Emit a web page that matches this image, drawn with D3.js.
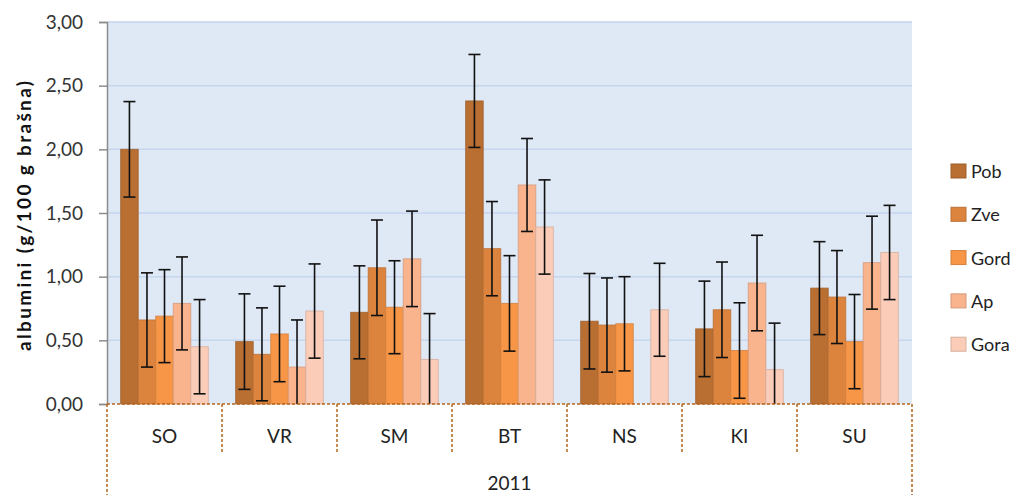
<!DOCTYPE html>
<html>
<head>
<meta charset="utf-8">
<script src="https://cdn.jsdelivr.net/npm/d3@7"></script>
<style>
  body { margin: 0; background: #fff; }
  svg { font-family: Lato, "Open Sans", sans-serif; }
</style>
</head>
<body>
<svg id="chart"></svg>
<script>
const sites = ["SO", "VR", "SM", "BT", "NS", "KI", "SU"];
const series = ["Pob", "Zve", "Gord", "Ap", "Gora"];
const yearLabel = "2011";
const yTicks = [0, 0.5, 1, 1.5, 2, 2.5, 3];

// mean values per site, order of series
const values = {
    SO: [2.00, 0.66, 0.69, 0.79, 0.45],
    VR: [0.49, 0.39, 0.55, 0.29, 0.73],
    SM: [0.72, 1.07, 0.76, 1.14, 0.35],
    BT: [2.38, 1.22, 0.79, 1.72, 1.39],
    NS: [0.65, 0.62, 0.63, null, 0.74],
    KI: [0.59, 0.74, 0.42, 0.95, 0.27],
    SU: [0.91, 0.84, 0.49, 1.11, 1.19]
};

// error (+/-)
const errors = {
    SO: [0.375, 0.37, 0.365, 0.365, 0.37],
    VR: [0.375, 0.365, 0.375, 0.37, 0.37],
    SM: [0.365, 0.375, 0.365, 0.375, 0.36],
    BT: [0.365, 0.37, 0.375, 0.365, 0.37],
    NS: [0.375, 0.37, 0.37, null, 0.365],
    KI: [0.375, 0.375, 0.375, 0.375, 0.365],
    SU: [0.365, 0.365, 0.37, 0.365, 0.37]
};

const colors = ["#b96f32", "#dc843e", "#f79646", "#f9b48e", "#fbcdb9"];

const width = 1020;
const height = 495;
const plotLeft = 107;
const plotRight = 912;
const plotTop = 22;
const plotBottom = 404;

const svg = d3.select("#chart")
    .attr("width", width)
    .attr("height", height);

const x = d3.scaleBand()
    .domain(sites)
    .range([plotLeft, plotRight])
    .padding(0);

const xInner = d3.scaleBand()
    .domain(series)
    .range([0, x.bandwidth()])
    .paddingInner(0)
    .paddingOuter(0.78);

const y = d3.scaleLinear()
    .domain([0, 3])
    .range([plotBottom, plotTop]);

const colorScale = d3.scaleOrdinal().domain(series).range(colors);

// plot background
svg.append("rect")
    .attr("x", plotLeft)
    .attr("y", plotTop)
    .attr("width", plotRight - plotLeft)
    .attr("height", plotBottom - plotTop)
    .attr("fill", "#dfe8f5");

// grid lines
svg.append("g")
    .selectAll("line")
    .data(yTicks.filter(d => d > 0))
    .enter().append("line")
    .attr("x1", plotLeft)
    .attr("x2", plotRight)
    .attr("y1", d => y(d))
    .attr("y2", d => y(d))
    .attr("stroke", "#c5d6ee")
    .attr("stroke-width", 1.5);

// bars
const rows = [];
sites.forEach(s =>
{
    series.forEach((k, i) =>
    {
        if (values[s][i] !== null)
        {
            rows.push({site: s, key: k, value: values[s][i], err: errors[s][i]});
        }
    });
});

svg.append("clipPath").attr("id", "plotClip")
    .append("rect")
    .attr("x", plotLeft)
    .attr("y", plotTop - 5)
    .attr("width", plotRight - plotLeft)
    .attr("height", plotBottom - plotTop + 5);

svg.append("g")
    .selectAll("rect")
    .data(rows)
    .enter().append("rect")
    .attr("x", d => x(d.site) + xInner(d.key))
    .attr("y", d => y(d.value))
    .attr("width", xInner.bandwidth())
    .attr("height", d => y(0) - y(d.value))
    .attr("fill", d => colorScale(d.key))
    .attr("stroke", d => d3.color(colorScale(d.key)).darker(0.45))
    .attr("stroke-opacity", 0.8)
    .attr("stroke-width", 1);

// error bars
const errG = svg.append("g").attr("clip-path", "url(#plotClip)");
const capHalf = 6;
rows.forEach(d =>
{
    const cx = x(d.site) + xInner(d.key) + xInner.bandwidth() / 2;
    const hi = y(d.value + d.err);
    const lo = y(d.value - d.err);
    errG.append("line")
        .attr("x1", cx).attr("x2", cx)
        .attr("y1", hi).attr("y2", lo)
        .attr("stroke", "#111").attr("stroke-width", 1.6);
    [hi, lo].forEach(yy =>
    {
        errG.append("line")
            .attr("x1", cx - capHalf).attr("x2", cx + capHalf)
            .attr("y1", yy).attr("y2", yy)
            .attr("stroke", "#111").attr("stroke-width", 1.6);
    });
});

// y axis
const yAxis = d3.axisLeft(y)
    .tickValues(yTicks)
    .tickSize(8)
    .tickPadding(16)
    .tickFormat(d => d3.format(".2f")(d).replace(".", ","));

const yAxisG = svg.append("g")
    .attr("transform", `translate(${plotLeft},0)`)
    .call(yAxis);

yAxisG.select(".domain").attr("stroke", "#8c8c8c").attr("stroke-width", 1.5);
yAxisG.selectAll(".tick line").attr("stroke", "#8c8c8c").attr("stroke-width", 1.5);
yAxisG.selectAll(".tick text")
    .attr("font-size", "19px")
    .attr("font-family", "Lato, sans-serif")
    .attr("fill", "#333");

svg.append("text")
    .attr("transform", `translate(31,${(plotTop + plotBottom) / 2 + 3}) rotate(-90)`)
    .attr("text-anchor", "middle")
    .attr("font-size", "19px")
    .attr("font-weight", "bold")
    .attr("fill", "#111")
    .attr("textLength", 270)
    .attr("lengthAdjust", "spacing")
    .text("albumini (g/100 g brašna)");

// x axis (dashed brown)
const dashColor = "#b5651d";
svg.append("line")
    .attr("x1", plotLeft).attr("x2", plotRight)
    .attr("y1", plotBottom).attr("y2", plotBottom)
    .attr("stroke", dashColor)
    .attr("stroke-width", 1.5)
    .attr("stroke-dasharray", "3,2");

const bounds = sites.map(s => x(s)).concat([plotRight]);
svg.append("g")
    .selectAll("line")
    .data(bounds)
    .enter().append("line")
    .attr("x1", d => d).attr("x2", d => d)
    .attr("y1", plotBottom)
    .attr("y2", (d, i) => (i === 0 || i === bounds.length - 1) ? height : 452)
    .attr("stroke", dashColor)
    .attr("stroke-width", 1.5)
    .attr("stroke-dasharray", "3,2");

svg.append("g")
    .selectAll("text")
    .data(sites)
    .enter().append("text")
    .attr("x", d => x(d) + x.bandwidth() / 2)
    .attr("y", 443)
    .attr("text-anchor", "middle")
    .attr("font-size", "19px")
    .attr("fill", "#222")
    .text(d => d);

svg.append("text")
    .attr("x", (plotLeft + plotRight) / 2)
    .attr("y", 490)
    .attr("text-anchor", "middle")
    .attr("font-size", "19px")
    .attr("fill", "#222")
    .text(yearLabel);

// legend
const legend = svg.append("g")
    .attr("transform", "translate(951,164)");

const legendItems = legend.selectAll("g")
    .data(series)
    .enter().append("g")
    .attr("transform", (d, i) => `translate(0,${i * 43.3})`);

legendItems.append("rect")
    .attr("width", 15)
    .attr("height", 14)
    .attr("fill", d => colorScale(d))
    .attr("stroke", d => d3.color(colorScale(d)).darker(0.45))
    .attr("stroke-width", 1);

legendItems.append("text")
    .attr("x", 20)
    .attr("y", 14)
    .attr("font-size", "18px")
    .attr("fill", "#222")
    .text(d => d);
</script>
</body>
</html>
